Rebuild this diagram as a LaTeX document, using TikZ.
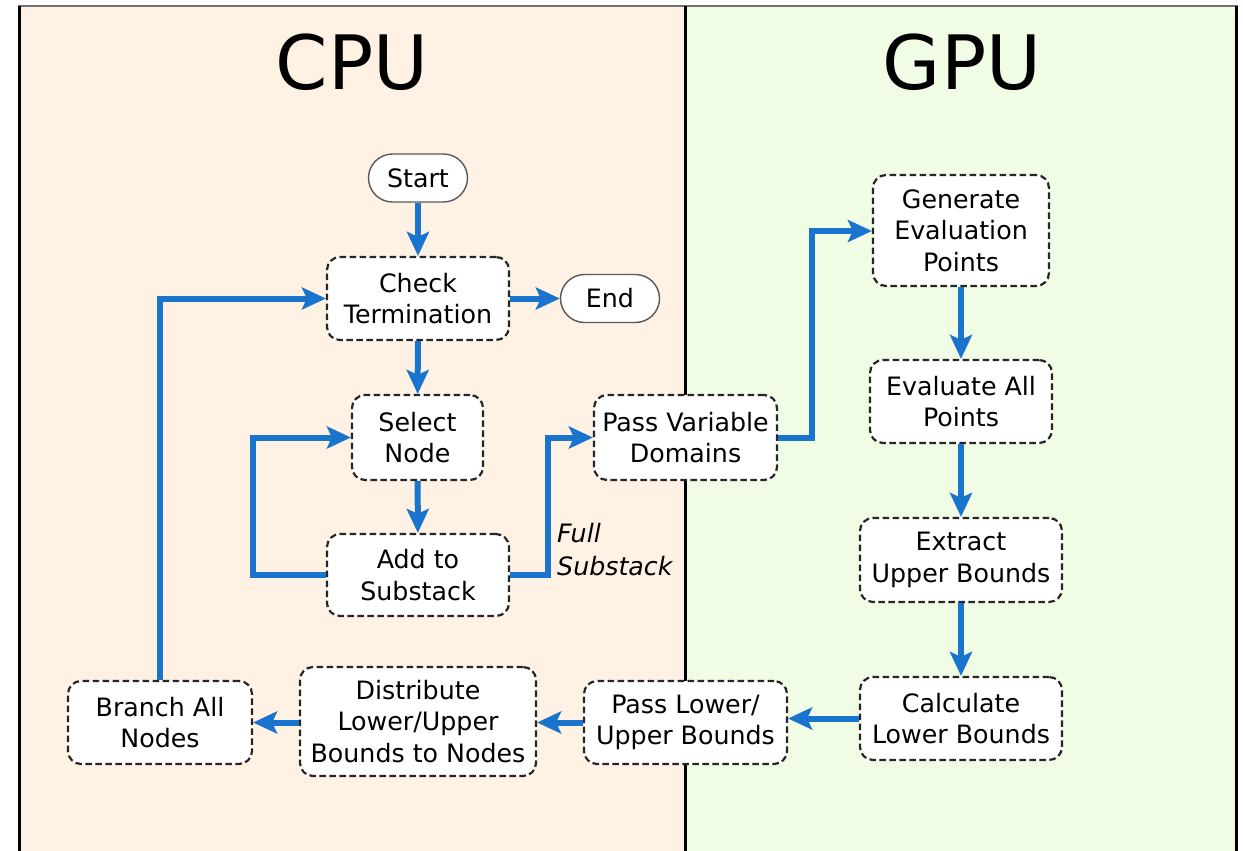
\documentclass[tikz,border=0pt]{standalone}
\usepackage{fontspec}
\setmainfont{DejaVu Sans}
\usetikzlibrary{arrows.meta}
\definecolor{cpubg}{RGB}{255,242,228}
\definecolor{gpubg}{RGB}{240,252,228}
\definecolor{flow}{RGB}{24,116,205}
\begin{document}
\begin{tikzpicture}[x=1pt,y=-1pt,
  font=\fontsize{25.3}{31.5}\selectfont,
  stepbox/.style={draw=black!85, dashed, dash pattern=on 6.5pt off 3.5pt, line width=2.2pt,
    fill=white, rounded corners=13pt, align=center, inner sep=0pt},
  terminal/.style={draw=black!65, line width=1.4pt, fill=white, rounded corners=24pt,
    align=center, inner sep=0pt, minimum width=99pt, minimum height=48pt},
  flowarrow/.style={draw=flow, line width=6pt,
    -{Stealth[length=24pt,width=22pt,inset=5pt]}},
  title/.style={font=\fontsize{75}{80}\selectfont}]
\useasboundingbox (0,0) rectangle (1243,851);

% background panels
\fill[cpubg] (19,6) rectangle (685.5,851);
\fill[gpubg] (685.5,6) rectangle (1236,851);
\draw[black!55, line width=1.5pt] (18,6) -- (1237.5,6);
\draw[black, line width=3pt] (19,6) -- (19,851);
\draw[black, line width=3pt] (1236,6) -- (1236,851);
\draw[black, line width=3pt] (685.5,6) -- (685.5,851);

% panel titles
\node[title] (cpu) at (352,62) {CPU};
\node[title] (gpu) at (962,62) {GPU};

% CPU side
\node[terminal] (start) at (418,178) {Start};
\node[stepbox, minimum width=182pt, minimum height=83pt] (check) at (418,298.5) {Check\\Termination};
\node[terminal] (end) at (610,298.5) {End};
\node[stepbox, minimum width=131pt, minimum height=85pt] (select) at (417.5,437.5) {Select\\Node};
\node[stepbox, minimum width=182pt, minimum height=82pt] (add) at (418,575) {Add to\\Substack};
\node[stepbox, minimum width=183pt, minimum height=85pt] (passvar) at (685.5,437.5) {Pass Variable\\Domains};
\node[anchor=west, align=left, inner sep=0pt, font=\fontsize{25.3}{33}\itshape] (full) at (557,550) {Full\\Substack};

% GPU side
\node[stepbox, minimum width=176pt, minimum height=111pt] (gen) at (961,230.5) {Generate\\Evaluation\\Points};
\node[stepbox, minimum width=182pt, minimum height=83pt] (eval) at (961,401.5) {Evaluate All\\Points};
\node[stepbox, minimum width=202pt, minimum height=84pt] (extract) at (961,560) {Extract\\Upper Bounds};
\node[stepbox, minimum width=202pt, minimum height=83pt] (calc) at (961,718.5) {Calculate\\Lower Bounds};

% returning row
\node[stepbox, minimum width=203pt, minimum height=83pt] (passlu) at (685.5,722.5) {Pass Lower/\\Upper Bounds};
\node[stepbox, minimum width=236pt, minimum height=109pt] (dist) at (418,721.5) {Distribute\\Lower/Upper\\Bounds to Nodes};
\node[stepbox, minimum width=184pt, minimum height=83pt] (branch) at (160,722.5) {Branch All\\Nodes};

% bend columns
\coordinate (loopcol) at (253,0);
\coordinate (fullcol) at (548,0);
\coordinate (gpucol) at (812,0);
\coordinate (gentarget) at (0,231);

% connectors
\draw[flowarrow] (start) -- (check);
\draw[flowarrow] (check) -- (end);
\draw[flowarrow] (check) -- (select);
\draw[flowarrow] (select) -- (add);
\draw[flowarrow] (add.west) -- (add.west -| loopcol) |- (select.west);
\draw[flowarrow] (add.east) -- (add.east -| fullcol) |- (passvar.west);
\draw[flowarrow] (passvar.east) -- (passvar.east -| gpucol) |- (gen.west |- gentarget);
\draw[flowarrow] (gen) -- (eval);
\draw[flowarrow] (eval) -- (extract);
\draw[flowarrow] (extract) -- (calc);
\draw[flowarrow] (calc.west) -- (calc.west -| passlu.east);
\draw[flowarrow] (passlu.west) -- (passlu.west -| dist.east);
\draw[flowarrow] (dist.west |- branch.east) -- (branch.east);
\draw[flowarrow] (branch.north) |- (check.west);
\end{tikzpicture}
\end{document}
